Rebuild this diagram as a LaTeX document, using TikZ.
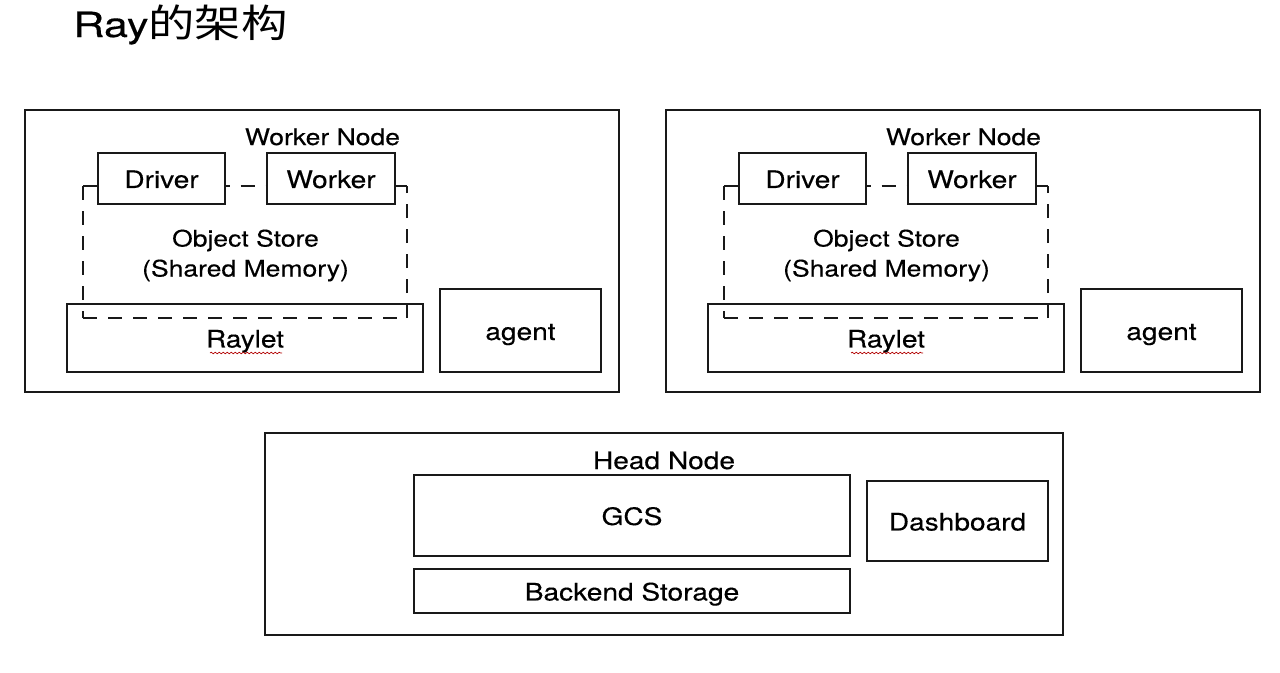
\documentclass[tikz,border=0pt]{standalone}
\usepackage{fontspec}
\setmainfont{TeX Gyre Heros}[FakeStretch=1.17, FakeBold=0.3]
\newfontfamily\titlelat{TeX Gyre Heros}[FakeStretch=1.25, FakeBold=0.3]
\newfontfamily\titlecjk{Noto Sans CJK SC}[FakeStretch=1.2]
\usetikzlibrary{decorations.pathmorphing}
\tikzset{
  box/.style={draw=black!90, line width=1.8pt, inner sep=0pt,
    text height=16pt, text depth=1.8pt},
  osline/.style={draw=black!90, line width=2pt, dash pattern=on 10.5pt off 8.25pt},
  lbl/.style={inner sep=0pt, anchor=base, font=\fontsize{17}{20}\selectfont},
  squig/.style={draw=red!70!black, line width=0.5pt, decorate,
    decoration={snake, amplitude=0.6pt, segment length=3pt}},
}
\newcommand\bx[7][]{%
  \node[box,#1, minimum width={(#5-#3)*0.75pt}, minimum height={(#6-#4)*0.75pt}]
    (#2) at ({(#3+#5)/2},{(#4+#6)/2}) {#7};}
\newcommand\WorkerNodeDraw{%
  \bx{outer}{25}{110}{619}{392}{}
  \node[lbl] (wnlabel) at (322.5,145) {Worker Node};
  \bx{driver}{98}{153}{225}{204}{Driver}
  \bx{worker}{267}{153}{395}{204}{Worker}
  \bx{raylet}{67}{304}{423}{372}{Raylet}
  \bx{agent}{440}{289}{601}{372}{agent}
  \node[lbl] (oslabelA) at (245.5,246.5) {Object Store};
  \node[lbl] (oslabelB) at (245.5,276.5) {(Shared Memory)};
  \coordinate (osA) at (83,186);
  \coordinate (osB) at (83,318);
  \coordinate (osC) at (407,318);
  \coordinate (osD) at (407,186);
  \draw[osline] (driver.west |- osA) -- (osA);
  \draw[osline] (osA) -- (osB);
  \draw[osline] (osB) -- (osC);
  \draw[osline] (osC) -- (osD);
  \draw[osline] (osD) -- (worker.east |- osD);
  \draw[osline, dash phase=8pt] (driver.east |- osA) -- (worker.west |- osA);
  \coordinate (sqA) at (210,353);
  \coordinate (sqB) at (282,353);
  \draw[squig] (sqA) -- (sqB);
}
\begin{document}
\begin{tikzpicture}[x=0.75pt,y=-0.75pt, font=\fontsize{18}{22}\selectfont]
\useasboundingbox[fill=white] (0,0) rectangle (1280,672);
\node[anchor=base west, inner sep=0pt] (title) at (73,37)
  {{\titlelat\fontsize{26}{30}\selectfont Ray}{\titlecjk\fontsize{29}{30}\selectfont 的架构}};
\begin{scope}[name prefix=L-]
  \WorkerNodeDraw
\end{scope}
\begin{scope}[xshift=480.75pt, name prefix=R-]
  \WorkerNodeDraw
\end{scope}
\bx{head}{265}{433}{1063}{635}{}
\node[lbl, font=\fontsize{18}{22}\selectfont] (headlabel) at (664,469) {Head Node};
\bx{gcs}{414}{475}{850}{556}{GCS}
\bx{backend}{414}{569}{850}{613}{Backend Storage}
\bx{dashboard}{867}{481}{1048}{561}{Dashboard}
\end{tikzpicture}
\end{document}
